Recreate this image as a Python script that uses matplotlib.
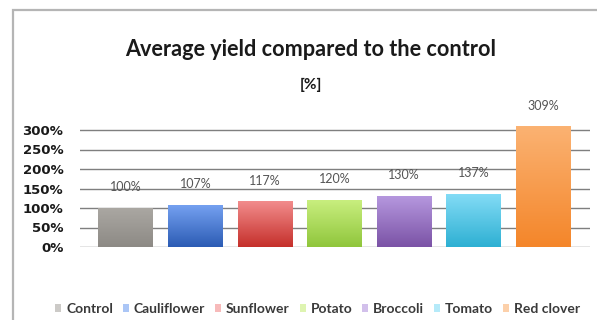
import numpy as np
import matplotlib
matplotlib.use("Agg")
import matplotlib.pyplot as plt
from matplotlib.colors import LinearSegmentedColormap
from matplotlib.patches import Rectangle, Patch

# Data
categories = ["Control", "Cauliflower", "Sunflower", "Potato", "Broccoli", "Tomato", "Red clover"]
yield_pct = [100, 107, 117, 120, 130, 137, 309]
y_ticks = [0, 50, 100, 150, 200, 250, 300]

# Gradient colours per bar (top, bottom)
top_colors = ["#aaa7a2", "#74a0f0", "#f28c8c", "#c8ee7e", "#b597de", "#84dcf6", "#fbb272"]
bottom_colors = ["#8d8a85", "#2c5cb4", "#c5302b", "#90c63c", "#7b53a6", "#2eb0d3", "#f4862a"]

plt.rcParams["font.family"] = ["Lato", "DejaVu Sans"]

W, H = 597, 320
fig = plt.figure(figsize=(W / 100, H / 100), dpi=100)
fig.patch.set_facecolor("white")

# Chart frame
fig.add_artist(Rectangle((13 / W, -0.1), 1.2, 1.1 - 10 / H, transform=fig.transFigure,
                         fill=False, edgecolor="#b5b5b5", linewidth=1.6))

ax = fig.add_axes([80 / W, 73 / H, 510 / W, 124.8 / H])
x = np.arange(len(categories))
bars = ax.bar(x, yield_pct, width=0.79, color=bottom_colors, zorder=2)

ax.set_yticks(y_ticks)
ax.set_yticklabels([f"{t}%" for t in y_ticks], fontsize=9.5, fontweight="bold",
                   color="#1a1a1a", family=["DejaVu Sans"])
ax.tick_params(axis="y", length=0, pad=12)
ax.set_xticks([])
for s in ax.spines.values():
    s.set_visible(False)
for t in y_ticks:
    ax.axhline(t, color="#7f7f7f", linewidth=1.0, zorder=1)

# Vertical gradient fill inside each bar
for bar, c_top, c_bot in zip(bars, top_colors, bottom_colors):
    cmap = LinearSegmentedColormap.from_list("g", [c_bot, c_top])
    grad = np.linspace(0, 1, 64).reshape(-1, 1)
    bx, by = bar.get_x(), bar.get_y()
    bw, bh = bar.get_width(), bar.get_height()
    im = ax.imshow(grad, cmap=cmap, origin="lower", aspect="auto",
                   extent=(bx, bx + bw, by, by + bh), zorder=2.5)
    im.set_clip_path(bar)
ax.set_xlim(-0.66, 6.67)
ax.set_ylim(0, 320)

# Value labels
for xi, v in zip(x, yield_pct):
    ax.annotate(f"{v}%", xy=(xi, v), xytext=(0, 15), textcoords="offset points",
                ha="center", va="center", fontsize=9, color="#555555",
                annotation_clip=False)

fig.text(311 / W, 1 - 50 / H, "Average yield compared to the control",
         ha="center", va="center", fontsize=15.6, fontweight="bold", color="#1a1a1a")
fig.text(311 / W, 1 - 85 / H, "[%]", ha="center", va="center", fontsize=11,
         fontweight="bold", color="#1a1a1a")

handles = [Patch(facecolor=c, edgecolor="none", alpha=0.6) for c in top_colors]
fig.legend(handles, categories, ncol=7, loc="center left",
           bbox_to_anchor=(55 / W, 1 - 309 / H), frameon=False,
           handlelength=0.45, handleheight=0.45, handletextpad=0.35,
           columnspacing=0.7, borderpad=0, borderaxespad=0,
           prop={"size": 10, "weight": "bold"}, labelcolor="#3a3a3a")

fig.savefig("out.png", dpi=100, facecolor="white")
